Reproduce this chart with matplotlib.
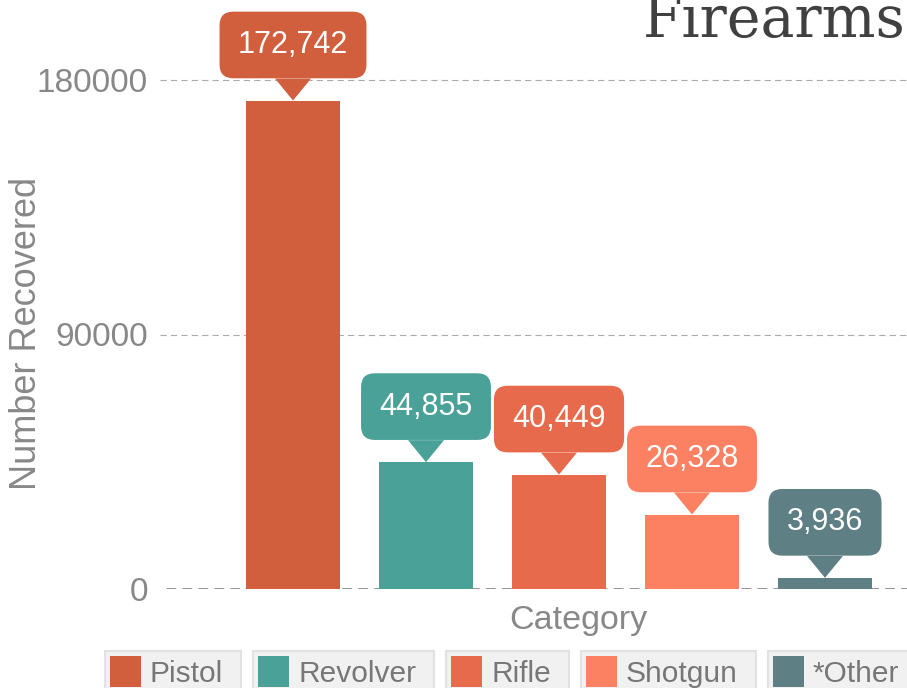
# Firearms recovered by category - bar chart with callout labels
import numpy as np
import matplotlib.pyplot as plt
from matplotlib import transforms
from matplotlib.patches import Polygon, Rectangle

plt.rcParams['font.family'] = ['Liberation Sans', 'DejaVu Sans']
plt.rcParams['lines.scale_dashes'] = False

# data
categories = ['Pistol', 'Revolver', 'Rifle', 'Shotgun', '*Other']
recovered = [172742, 44855, 40449, 26328, 3936]
colors = ['#d15e3d', '#4aa197', '#e66a4b', '#fc8062', '#5e7f84']
yticks = [0, 90000, 180000]

W, H = 907, 688
fig = plt.figure(figsize=(W / 100, H / 100), dpi=100)
ax = fig.add_axes([160 / W, (H - 589) / H, 1 - 160 / W, 589 / H])

x = np.arange(len(categories))
ax.bar(x, recovered, width=0.7, color=colors, zorder=2)
ax.set_xlim(-1, (W - 293) / 133)
ax.set_ylim(0, 180000 * 589 / 509)

# grid lines
for y in yticks[1:]:
    ax.axhline(y, color='#aaaaaa', lw=0.8, ls=(0, (4.5, 3)), zorder=1)
ax.axhline(0, xmin=6 / 747, color='#8a8a8a', lw=2.0, ls=(0, (7, 4.5)), zorder=1)

for s in ax.spines.values():
    s.set_visible(False)
ax.set_xticks([])
ax.set_yticks(yticks)
ax.set_yticklabels([str(t) for t in yticks])
ax.tick_params(length=0, pad=8.6, labelsize=24, labelcolor='#888888')

ax.set_ylabel('Number Recovered', fontsize=26, color='#888888', va='center')
ax.yaxis.set_label_coords(-133 / 747, (589 - 334) / 589)
ax.set_xlabel('Category', fontsize=24.5, color='#888888', va='center')
ax.xaxis.set_label_coords((578 - 160) / 747, -(621 - 589) / 589)

# callout bubbles
for xi, v, c in zip(x, recovered, colors):
    ax.annotate(f'{v:,}', xy=(xi, v), xytext=(0, 40), textcoords='offset points',
                ha='center', va='center', color='white', fontsize=22, zorder=4,
                bbox=dict(boxstyle='round,pad=0.6,rounding_size=0.45', fc=c, ec='none'))
    tr = fig.dpi_scale_trans + transforms.ScaledTranslation(xi, v, ax.transData)
    ax.add_patch(Polygon([(-0.18, 0.22), (0.18, 0.22), (0, 0)], closed=True,
                         transform=tr, fc=c, ec='none', zorder=3, clip_on=False))

# title (runs off the right edge, as in the original)
fig.text(643 / W, 1 - 37 / H, 'Firearms', fontsize=41, family='DejaVu Serif',
         color='#404040', ha='left', va='baseline')

# legend, one boxed item per category
renderer = fig.canvas.get_renderer()
lx = 105
for lab, c in zip(categories, colors):
    t = fig.text((lx + 45) / W, 1 - 682 / H, lab, fontsize=21.5, color='#777777',
                 ha='left', va='baseline', zorder=3)
    tw = t.get_window_extent(renderer).width
    bw = 45 + tw + 18
    fig.add_artist(Rectangle((lx / W, 1 - 697 / H), bw / W, 46 / H,
                             transform=fig.transFigure, fc='#f1f1f1', ec='#e2e2e2',
                             lw=1.5, zorder=1))
    fig.add_artist(Rectangle(((lx + 5) / W, 1 - 687 / H), 31 / W, 31 / H,
                             transform=fig.transFigure, fc=c, ec='none', zorder=2))
    lx += bw + 12

fig.savefig('out.png', dpi=100)
